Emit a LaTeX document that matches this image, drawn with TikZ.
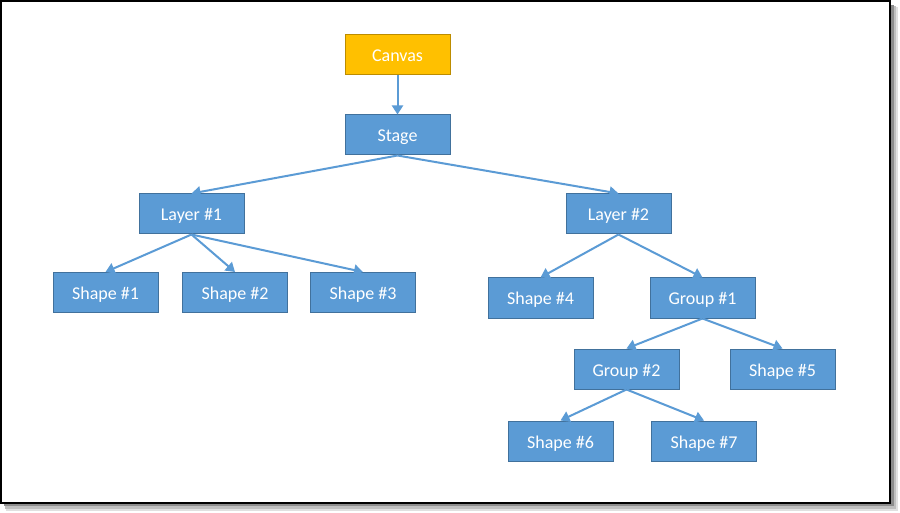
\documentclass[tikz,border=0pt]{standalone}
\usepackage{fontspec}
\setmainfont{Carlito}
\usetikzlibrary{arrows.meta}

\definecolor{boxblue}{HTML}{5B9BD5}
\definecolor{boxedge}{HTML}{41719C}
\definecolor{boxgold}{HTML}{FFC000}
\definecolor{goldedge}{HTML}{BC8C00}

\begin{document}
\begin{tikzpicture}[x=1pt,y=-1pt,
		item/.style={draw=boxedge,fill=boxblue,line width=1pt,text=white,
			minimum width=105pt,minimum height=40pt,inner sep=0pt,
			text height=16pt,text depth=2pt,
			font=\fontsize{18}{20}\selectfont},
		link/.style={draw=boxblue,line width=2pt,
			-{Triangle[length=9pt,width=11pt]}}]
	\useasboundingbox (0,0) rectangle (900,513);
	% Frame with a soft shadow
	\fill[black!12] (6,7) rectangle (898,511);
	\fill[black!25] (5,6) rectangle (896,509);
	\fill[black!45] (4,5) rectangle (894,506);
	\draw[fill=white,line width=2pt] (1,1) rectangle (890,503);
	
	% Top of the tree
	\node[item,fill=boxgold,draw=goldedge] (canvas) at (397.5,54.5) {Canvas};
	\node[item] (stage) at (397.5,135) {Stage};
	
	% Layers
	\node[item] (layer1) at (191.5,214) {Layer \#1};
	\node[item] (layer2) at (618.5,214) {Layer \#2};
	
	% Shapes and groups
	\node[item] (shape1) at (105.5,292.5) {Shape \#1};
	\node[item] (shape2) at (235,292.5) {Shape \#2};
	\node[item] (shape3) at (363,292.5) {Shape \#3};
	\node[item] (shape4) at (540.5,298) {Shape \#4};
	\node[item] (group1) at (702.5,298) {Group \#1};
	\node[item] (group2) at (626.5,369) {Group \#2};
	\node[item] (shape5) at (782.5,369) {Shape \#5};
	\node[item] (shape6) at (560.5,441) {Shape \#6};
	\node[item] (shape7) at (704,441) {Shape \#7};
	
	% Connections
	\draw[link] (canvas.south) -- (stage.north);
	\draw[link] (stage.south) -- (layer1.north);
	\draw[link] (stage.south) -- (layer2.north);
	\draw[link] (layer1.south) -- (shape1.north);
	\draw[link] (layer1.south) -- (shape2.north);
	\draw[link] (layer1.south) -- (shape3.north);
	\draw[link] (layer2.south) -- (shape4.north);
	\draw[link] (layer2.south) -- (group1.north);
	\draw[link] (group1.south) -- (group2.north);
	\draw[link] (group1.south) -- (shape5.north);
	\draw[link] (group2.south) -- (shape6.north);
	\draw[link] (group2.south) -- (shape7.north);
\end{tikzpicture}
\end{document}
